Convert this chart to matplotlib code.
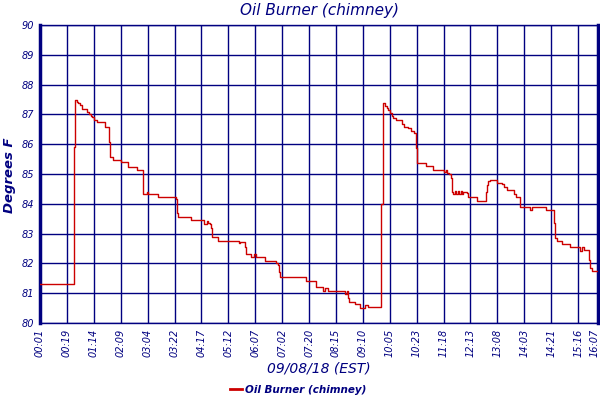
import matplotlib
matplotlib.use("Agg")
import matplotlib.pyplot as plt
import matplotlib.transforms as mtransforms
from matplotlib.lines import Line2D

# x positions in units of tick spacing (tick k at position k), step-post values
x_pos = [0, 1.26, 1.30, 1.38, 1.42, 1.50, 1.55, 1.74, 1.81, 1.88, 1.94, 2.01, 2.13,
         2.42, 2.57, 2.60, 2.72, 3.01, 3.27, 3.62, 3.82, 3.84, 3.99, 4.03, 4.40,
         5.06, 5.08, 5.10, 5.14, 5.60, 6.11, 6.22, 6.26, 6.32, 6.36, 6.38, 6.42,
         6.63, 7.40, 7.43, 7.62, 7.66, 7.83, 7.96, 8.03, 8.38, 8.77, 8.86, 8.90,
         8.92, 9.89, 10.26, 10.53, 10.58, 10.72, 11.34, 11.40, 11.46, 11.50, 11.71,
         11.90, 12.08, 12.20, 12.68, 12.75, 12.83, 12.89, 12.95, 13.01, 13.07,
         13.13, 13.22, 13.45, 13.54, 13.67, 13.79, 13.91, 13.97, 13.99, 14.01,
         14.35, 14.60, 15.03, 15.08, 15.12, 15.20, 15.27, 15.30, 15.33, 15.36,
         15.43, 15.48, 15.53, 15.59, 15.65, 15.70, 15.74, 15.86, 15.92, 16.23,
         16.57, 16.60, 16.67, 16.73, 16.98, 17.19, 17.26, 17.35, 17.60, 17.68,
         17.84, 18.22, 18.30, 18.80, 19.11, 19.14, 19.21, 19.42, 19.70, 20.07,
         20.16, 20.23, 20.41, 20.45, 20.53, 20.74]
temps = [81.30, 85.90, 87.47, 87.42, 87.37, 87.32, 87.18, 87.07, 87.01, 86.95, 86.90, 86.81, 86.73,
         86.59, 86.08, 85.58, 85.47, 85.39, 85.22, 85.13, 84.71, 84.33, 84.41, 84.33, 84.24,
         84.15, 83.96, 83.70, 83.55, 83.46, 83.32, 83.43, 83.37, 83.31, 83.18, 82.90, 82.88,
         82.75, 82.67, 82.73, 82.56, 82.32, 82.20, 82.31, 82.23, 82.09, 82.00, 81.95, 81.72,
         81.53, 81.42, 81.22, 81.07, 81.18, 81.07, 80.96, 81.07, 80.85, 80.72, 80.64,
         80.49, 80.60, 80.53, 84.00, 87.37, 87.29, 87.23, 87.15, 87.04, 86.96,
         86.89, 86.81, 86.67, 86.59, 86.53, 86.44, 86.37, 86.29, 85.86, 85.36,
         85.28, 85.13, 85.08, 85.13, 85.02, 84.99, 84.86, 84.63, 84.41, 84.32,
         84.43, 84.32, 84.44, 84.32, 84.43, 84.32, 84.39, 84.35, 84.24, 84.09,
         84.41, 84.63, 84.77, 84.80, 84.71, 84.66, 84.57, 84.46, 84.33, 84.24,
         83.88, 83.79, 83.88, 83.79, 83.35, 82.84, 82.75, 82.65, 82.54, 82.43,
         82.54, 82.45, 82.11, 81.84, 81.76, 81.76]

tick_labels = ["00:01", "00:19", "01:14", "02:09", "03:04", "03:22", "04:17", "05:12",
               "06:07", "07:02", "07:20", "08:15", "09:10", "10:05", "10:23", "11:18",
               "12:13", "13:08", "14:03", "14:21", "15:16", "16:07"]
tick_pos = list(range(21)) + [20.74]
y_ticks = [80, 81, 82, 83, 84, 85, 86, 87, 88, 89, 90]

navy = "#000080"
red = "#cc0000"

fig = plt.figure(figsize=(6, 4), dpi=100)
ax = fig.add_axes([40/600, 1 - 323/400, 558/600, 298/400])
ax.step(x_pos, temps, where="post", color=red, lw=1.0, zorder=3)
ax.set_xlim(0, 20.74)
ax.set_ylim(80, 90)
ax.set_xticks(tick_pos)
ax.set_xticklabels(tick_labels, rotation=90, fontsize=7, fontstyle="italic",
                   color=navy, family="DejaVu Sans", va="top")
ax.set_yticks(y_ticks)
ax.set_yticklabels([str(v) for v in y_ticks], fontsize=7, fontstyle="italic",
                   color=navy, family="DejaVu Sans")
ax.tick_params(length=0, pad=4)
ax.grid(True, color=navy, lw=1.0)
ax.set_axisbelow(True)
for s in ["left", "right"]:
    ax.spines[s].set_color(navy)
    ax.spines[s].set_linewidth(2.5)
for s in ["top", "bottom"]:
    ax.spines[s].set_color(navy)
    ax.spines[s].set_linewidth(1.0)

# nudge the last x label so it stays inside the figure
last = ax.get_xticklabels()[-1]
last.set_transform(last.get_transform() +
                   mtransforms.ScaledTranslation(-3/100, 0, fig.dpi_scale_trans))

fig.text(319/600, 1 - 10/400, "Oil Burner (chimney)", ha="center", va="center",
         fontsize=11, fontstyle="italic", color=navy, family="DejaVu Sans")
fig.text(10/600, 1 - 175/400, "Degrees F", ha="center", va="center", rotation=90,
         fontsize=9.5, fontstyle="italic", fontweight="bold", color=navy, family="DejaVu Sans")
fig.text(319/600, 1 - 368/400, "09/08/18 (EST)", ha="center", va="center",
         fontsize=10, fontstyle="italic", color=navy, family="DejaVu Sans")

handle = Line2D([], [], color=red, lw=2)
leg = fig.legend([handle], ["Oil Burner (chimney)"], loc="center",
                 bbox_to_anchor=(298/600, 1 - 390/400), frameon=False,
                 handlelength=1.2, handletextpad=0.3,
                 prop={"size": 7.5, "style": "italic", "weight": "bold", "family": "DejaVu Sans"})
for t in leg.get_texts():
    t.set_color(navy)

fig.savefig("out.png", dpi=100)
